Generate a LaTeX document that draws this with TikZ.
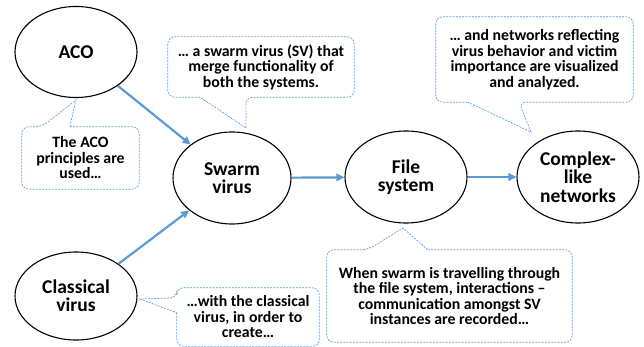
\documentclass[tikz,border=0pt]{standalone}
\usepackage{fontspec}
\setmainfont{Carlito}
\usetikzlibrary{arrows.meta,shapes.geometric,calc}
\definecolor{arrowblue}{RGB}{91,155,213}
\definecolor{callblue}{RGB}{100,160,215}
\tikzset{
 ell/.style={ellipse, draw=black, line width=1.1pt, minimum width=122pt, minimum height=91pt, inner sep=0pt, align=center, font=\fontsize{19.5}{18.3}\selectfont\bfseries},
 conn/.style={draw=arrowblue, line width=2.2pt, -{Triangle[length=8pt,width=7.5pt]}},
 ctext/.style={align=center, inner sep=0pt, font=\fontsize{15.8}{15.5}\selectfont\bfseries},
 cline/.style={draw=callblue, line width=0.7pt, dash pattern=on 2pt off 1.2pt},
}
\begin{document}
\begin{tikzpicture}[x=1pt,y=-1pt]
\useasboundingbox (0,0) rectangle (644,347);
% ellipses
\node[ell] (aco) at (76,52) {ACO};
\node[ell, minimum width=118pt, minimum height=92pt] (swarm) at (232,178) {Swarm\\virus};
\node[ell, minimum height=92pt] (file) at (406,177) {File\\system};
\node[ell, minimum height=92pt] (complex) at (578,177) {Complex-\\like\\networks};
\node[ell, minimum height=88pt] (classical) at (76,296) {Classical\\virus};
% connectors
\draw[conn] (aco) -- (swarm);
\draw[conn] (classical) -- (swarm);
\draw[conn] (swarm) -- (file);
\draw[conn] (file) -- (complex);
% callout 1
\node[ctext, minimum width=117pt, minimum height=62pt] (co1) at (80.5,158) {The ACO\\principles are\\used\ldots};
\coordinate (t1) at (76,100);
\draw[cline] ($(co1.north west)+(48,0)$) [rounded corners=7pt] -- (co1.north east) -- (co1.south east) -- (co1.south west) -- (co1.north west) -- ($(co1.north west)+(20,0)$) [sharp corners] -- (t1) -- cycle;
% callout 2
\node[ctext, minimum width=186pt, minimum height=60pt] (co2) at (261,67) {\ldots\ a swarm virus (SV) that\\merge functionality of\\both the systems.};
\coordinate (t2) at (246,128);
\draw[cline] ($(co2.south west)+(32,0)$) [rounded corners=7pt] -- (co2.south west) -- (co2.north west) -- (co2.north east) -- (co2.south east) -- ($(co2.south west)+(78,0)$) [sharp corners] -- (t2) -- cycle;
% callout 3
\node[ctext, minimum width=197pt, minimum height=85pt] (co3) at (534.5,59.5) {\ldots\ and networks reflecting\\virus behavior and victim\\importance are visualized\\and analyzed.};
\coordinate (t3) at (531,132);
\draw[cline] ($(co3.south west)+(32,0)$) [rounded corners=7pt] -- (co3.south west) -- (co3.north west) -- (co3.north east) -- (co3.south east) -- ($(co3.south west)+(83,0)$) [sharp corners] -- (t3) -- cycle;
% callout 4
\node[ctext, minimum width=142pt, minimum height=58pt] (co4) at (248,317) {\ldots with the classical\\virus, in order to\\create\ldots};
\coordinate (t4) at (140,299);
\draw[cline] ($(co4.north west)+(0,25)$) [rounded corners=7pt] -- (co4.south west) -- (co4.south east) -- (co4.north east) -- (co4.north west) -- ($(co4.north west)+(0,10)$) [sharp corners] -- (t4) -- cycle;
% callout 5
\node[ctext, minimum width=245pt, minimum height=92pt] (co5) at (449.5,296) {When swarm is travelling through\\the file system, interactions --\\communication amongst SV\\instances are recorded\ldots};
\coordinate (t5) at (403,228);
\draw[cline] ($(co5.north west)+(101,0)$) [rounded corners=7pt] -- (co5.north east) -- (co5.south east) -- (co5.south west) -- (co5.north west) -- ($(co5.north west)+(41,0)$) [sharp corners] -- (t5) -- cycle;
\end{tikzpicture}
\end{document}
